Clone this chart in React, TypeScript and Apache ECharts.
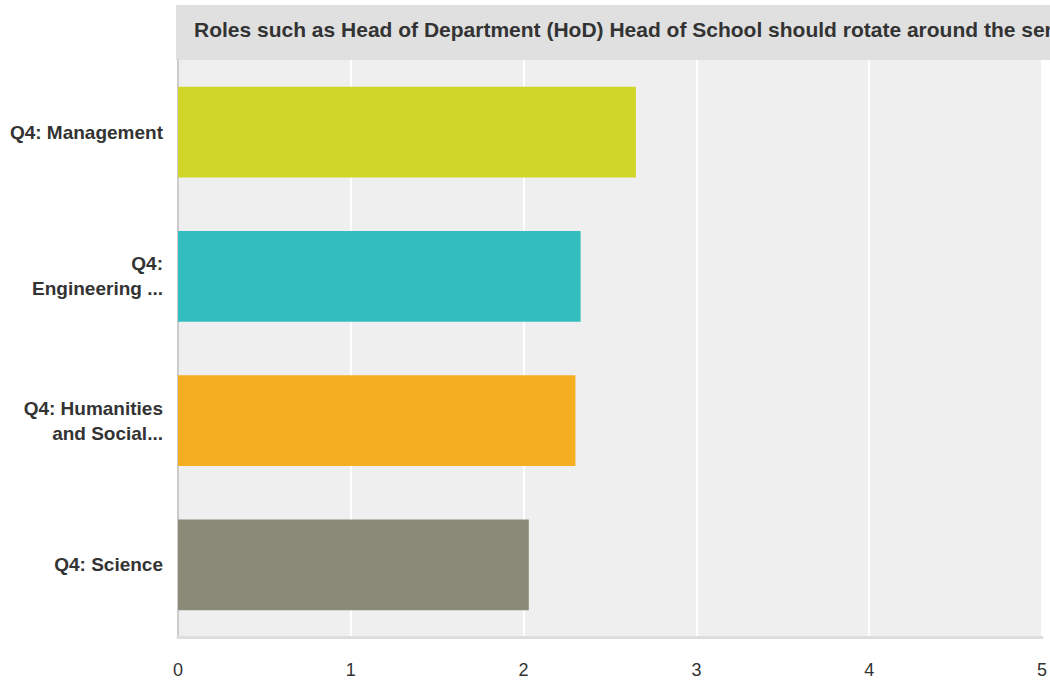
import React, { useEffect, useRef } from "react";
import * as echarts from "echarts";

const categories = ["Q4: Management", "Q4:\nEngineering ...", "Q4: Humanities\nand Social...", "Q4: Science"];
const values = [2.65, 2.33, 2.3, 2.03];
const barColors = ["#d0d628", "#34bdbf", "#f5ae20", "#898a78"];
const xTicks = [0, 1, 2, 3, 4, 5];
const title = "Roles such as Head of Department (HoD) Head of School should rotate around the senior staff";

export default function App() {
  const ref = useRef<HTMLDivElement>(null);
  useEffect(() => {
    document.body.style.margin = "0";
    const chart = echarts.init(ref.current!, null, { renderer: "svg" });
    const font = "'Liberation Sans', Arial, Helvetica, sans-serif";
    chart.setOption({
      animation: false,
      textStyle: { fontFamily: font },
      graphic: [
        { type: "rect", left: 176, top: 5, shape: { width: 874, height: 55 }, style: { fill: "#e0e0e0" }, silent: true },
        {
          type: "text", left: 194, top: 19,
          style: { text: title, fill: "#333333", font: `bold 21px ${font}` },
        },
      ],
      grid: { left: 178, right: 7, top: 60, bottom: 44, show: true, backgroundColor: "#efefef", borderWidth: 0 },
      xAxis: {
        type: "value", min: xTicks[0], max: xTicks[xTicks.length - 1], interval: 1,
        axisLine: { show: true, lineStyle: { color: "#dddddd", width: 3 } },
        axisTick: { show: false },
        axisLabel: { color: "#333333", fontSize: 18, margin: 24, fontFamily: font },
        splitLine: { show: true, lineStyle: { color: "#ffffff", width: 2 } },
      },
      yAxis: {
        type: "category", data: categories, inverse: true,
        axisLine: { show: true, lineStyle: { color: "#cccccc", width: 2 } },
        axisTick: { show: false },
        axisLabel: { color: "#333333", fontSize: 19, fontWeight: "bold", lineHeight: 25, margin: 15, align: "right", fontFamily: font },
        splitLine: { show: false },
      },
      series: [
        {
          type: "bar",
          data: values.map((v, i) => ({ value: v, itemStyle: { color: barColors[i] } })),
          barWidth: "63%",
        },
      ],
    });
    return () => chart.dispose();
  }, []);
  return <div ref={ref} style={{ width: 1050, height: 681 }} />;
}
